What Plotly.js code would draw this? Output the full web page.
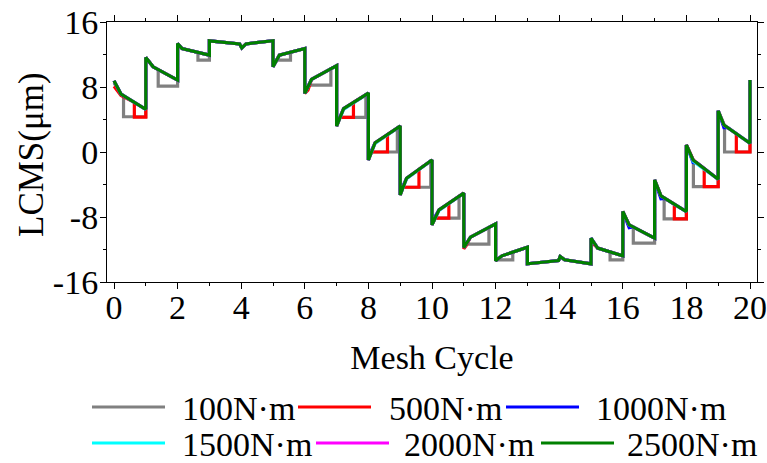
<!DOCTYPE html>
<html><head><meta charset="utf-8">
<script src="https://cdn.plot.ly/plotly-3.0.1.min.js"></script>
<style>html,body{margin:0;padding:0;background:#fff;}#chart{width:767px;height:463px;}</style>
</head><body><div id="chart"></div>
<script>
// ---- data ----
const seriesNames = ['100N·m', '500N·m', '1000N·m', '1500N·m', '2000N·m', '2500N·m'];

const greyX = [0, 0.22, 0.3, 0.3, 1, 1, 1.23, 1.39, 1.39, 2, 2, 2.14, 2.64, 2.64, 3, 3, 3.95, 4.02, 4.15, 5, 5, 5.11, 5.55, 5.55, 6, 6, 6.125, 6.82, 6.82, 7, 7, 7.11, 7.92, 7.92, 8, 8, 8.10, 8.91, 8.91, 9, 9, 9.09, 9.96, 9.96, 10, 10, 10.10, 10.85, 10.85, 11, 11, 11.07, 11.79, 11.79, 12, 12, 12.04, 12.54, 12.54, 13, 13, 13.98, 14.03, 14.17, 15, 15, 15.21, 15.6, 15.6, 16, 16, 16.2, 16.33, 16.33, 17, 17, 17.2, 17.3, 17.3, 18, 18, 18.22, 18.22, 19, 19, 19.18, 19.2, 19.2, 20, 20];
const greyY = [8.5, 7.13, 6.95, 4.34, 4.34, 11.63, 10.48, 10.14, 8.11, 8.11, 13.35, 12.74, 12.25, 11.3, 11.3, 13.68, 13.3, 12.8, 13.3, 13.7, 10.48, 11.3, 11.3, 12.28, 12.74, 7.21, 8.23, 8.23, 10.24, 10.63, 3.19, 4.26, 4.26, 7.05, 7.25, -0.98, 0, 0, 2.96, 3.19, -5.28, -4.34, -4.34, -1.09, -0.98, -8.97, -8.15, -8.15, -5.47, -5.07, -11.76, -11.34, -11.34, -9.28, -8.85, -13.39, -13.27, -13.27, -12.33, -11.71, -13.76, -13.35, -12.86, -13.27, -13.76, -10.6, -11.83, -12.3, -13.27, -13.27, -7.33, -8.97, -9.23, -11.22, -11.22, -3.44, -5.41, -5.65, -8.23, -8.23, 0.86, -1.0, -4.26, -4.26, 5.07, 3.32, 3.26, 0, 0, 8.5];

const redX = [0, 0.22, 0.64, 0.64, 1, 1, 1.23, 2, 2, 2.14, 3, 3, 3.95, 4.02, 4.15, 5, 5, 5.2, 6, 6, 6.1, 6.21, 7, 7, 7.11, 7.53, 7.53, 8, 8, 8.10, 8.6, 8.6, 9, 9, 9.09, 9.59, 9.59, 10, 10, 10.10, 10.53, 10.53, 11, 11, 11.08, 11.21, 12, 12, 12.2, 13, 13, 13.98, 14.03, 14.17, 15, 15, 15.07, 15.21, 16, 16, 16.2, 17, 17, 17.2, 17.62, 17.62, 18, 18, 18.21, 18.56, 18.56, 19, 19, 19.18, 19.57, 19.57, 20, 20];
const redY = [8.1, 6.95, 6.1, 4.3, 4.3, 11.63, 10.48, 8.85, 13.35, 12.74, 11.92, 13.68, 13.3, 12.8, 13.3, 13.7, 10.48, 11.92, 12.74, 7.21, 7.6, 8.93, 10.63, 3.19, 4.26, 4.26, 6.1, 7.25, -0.98, 0, 0, 2.15, 3.19, -5.28, -4.34, -4.34, -2.13, -0.98, -8.97, -8.15, -8.15, -6.31, -5.07, -11.9, -11.5, -10.48, -8.85, -13.39, -12.78, -11.71, -13.76, -13.35, -12.86, -13.27, -13.76, -10.75, -11.3, -11.83, -12.78, -7.33, -8.97, -10.6, -3.44, -5.41, -6.42, -8.23, -8.23, 0.86, -0.98, -2.03, -4.26, -4.26, 5.07, 3.32, 2.25, 0, 0, 8.4];

const blueX = [0, 0.22, 1, 1, 1.23, 2, 2, 2.14, 3, 3, 3.95, 4.02, 4.15, 5, 5, 5.2, 6, 6, 6.21, 7, 7, 7.07, 7.22, 8, 8, 8.07, 8.21, 9, 9, 9.07, 9.2, 10, 10, 10.07, 10.22, 11, 11, 11.21, 12, 12, 12.2, 13, 13, 13.98, 14.03, 14.17, 15, 15, 15.21, 16, 16, 16.2, 16.32, 17, 17, 17.2, 17.32, 18, 18, 18.21, 18.33, 19, 19, 19.18, 19.3, 20, 20];
const blueY = [8.76, 7.13, 5.25, 11.63, 10.48, 8.85, 13.35, 12.74, 11.92, 13.68, 13.3, 12.8, 13.3, 13.7, 10.48, 11.92, 12.74, 7.21, 8.93, 10.63, 3.19, 4.0, 5.34, 7.25, -0.98, -0.05, 1.14, 3.19, -5.28, -4.3, -3.23, -0.98, -8.97, -8.1, -7.13, -5.07, -11.76, -10.48, -8.85, -13.39, -12.78, -11.71, -13.76, -13.35, -12.86, -13.27, -13.76, -10.6, -11.83, -12.78, -7.33, -9.3, -9.21, -10.6, -3.44, -5.75, -5.70, -7.33, 0.86, -1.3, -1.34, -3.35, 5.07, 3.0, 2.99, 1.07, 8.85];

const cyanX = [0, 0.22, 1, 1, 1.23, 2, 2, 2.14, 3, 3, 3.95, 4.02, 4.15, 5, 5, 5.2, 6, 6, 6.21, 7, 7, 7.22, 8, 8, 8.21, 9, 9, 9.2, 10, 10, 10.22, 11, 11, 11.21, 12, 12, 12.2, 13, 13, 13.98, 14.03, 14.17, 15, 15, 15.21, 16, 16, 16.2, 17, 17, 17.2, 18, 18, 18.21, 19, 19, 19.18, 20, 20];
const cyanY = [8.76, 7.13, 5.25, 11.63, 10.48, 8.85, 13.35, 12.74, 11.92, 13.68, 13.3, 12.8, 13.3, 13.7, 10.48, 11.92, 12.74, 7.21, 8.93, 10.63, 3.19, 5.25, 7.25, -0.98, 1.05, 3.19, -5.28, -3.3, -0.98, -8.97, -7.2, -5.07, -11.76, -10.48, -8.85, -13.39, -12.78, -11.71, -13.76, -13.35, -12.86, -13.27, -13.76, -10.6, -11.83, -12.78, -7.33, -8.97, -10.6, -3.44, -5.41, -7.33, 0.86, -1.15, -3.35, 5.07, 3.32, 1.07, 8.85];

const magentaX = [0, 0.22, 1, 1, 1.23, 2, 2, 2.14, 3, 3, 3.95, 4.02, 4.15, 5, 5, 5.2, 6, 6, 6.21, 7, 7, 7.22, 8, 8, 8.21, 9, 9, 9.2, 10, 10, 10.22, 11, 11, 11.21, 12, 12, 12.2, 13, 13, 13.98, 14.03, 14.17, 15, 15, 15.21, 16, 16, 16.2, 17, 17, 17.2, 18, 18, 18.21, 19, 19, 19.18, 20, 20];
const magentaY = [8.76, 7.13, 5.25, 11.63, 10.48, 8.85, 13.35, 12.74, 11.92, 13.68, 13.3, 12.8, 13.3, 13.7, 10.48, 11.92, 12.74, 7.21, 8.93, 10.63, 3.19, 5.34, 7.25, -0.98, 1.14, 3.19, -5.28, -3.23, -0.98, -8.97, -7.13, -5.07, -11.76, -10.48, -8.85, -13.39, -12.78, -11.71, -13.76, -13.35, -12.86, -13.27, -13.76, -10.6, -11.83, -12.78, -7.33, -8.97, -10.6, -3.44, -5.41, -7.33, 0.86, -0.98, -3.35, 5.07, 3.32, 1.07, 8.85];

const greenX = [0, 0.22, 1, 1, 1.23, 2, 2, 2.14, 3, 3, 3.95, 4.02, 4.15, 5, 5, 5.2, 6, 6, 6.21, 7, 7, 7.22, 8, 8, 8.21, 9, 9, 9.2, 10, 10, 10.22, 11, 11, 11.21, 12, 12, 12.2, 13, 13, 13.98, 14.03, 14.17, 15, 15, 15.21, 16, 16, 16.2, 17, 17, 17.2, 18, 18, 18.21, 19, 19, 19.18, 20, 20];
const greenY = [8.76, 7.13, 5.25, 11.63, 10.48, 8.85, 13.35, 12.74, 11.92, 13.68, 13.3, 12.8, 13.3, 13.7, 10.48, 11.92, 12.74, 7.21, 8.93, 10.63, 3.19, 5.34, 7.25, -0.98, 1.14, 3.19, -5.28, -3.23, -0.98, -8.97, -7.13, -5.07, -11.76, -10.48, -8.85, -13.39, -12.78, -11.71, -13.76, -13.35, -12.86, -13.27, -13.76, -10.6, -11.83, -12.78, -7.33, -8.97, -10.6, -3.44, -5.41, -7.33, 0.86, -0.98, -3.35, 5.07, 3.32, 1.07, 8.85];

const xTickVals = [0, 2, 4, 6, 8, 10, 12, 14, 16, 18, 20];
const yTickVals = [-16, -8, 0, 8, 16];
const yTickText = ['-16', '-8', '0', '8', '16'];

// ---- styling / layout ----
const FONT = '"Liberation Serif", "Times New Roman", Times, serif';
const colors = ['#808080', '#ff0000', '#0000ff', '#00ffff', '#ff00ff', '#008000'];
const xs = [greyX, redX, blueX, cyanX, magentaX, greenX];
const ys = [greyY, redY, blueY, cyanY, magentaY, greenY];

const W = 767, H = 463;
const ML = 107, MR = 10, MT = 22, MB = 181;
const PW = W - ML - MR, PH = H - MT - MB;
const px2x = p => (p - ML) / PW;
const py2y = p => (H - MB - p) / PH;

const traces = seriesNames.map((n, i) => ({
  type: 'scatter', mode: 'lines', name: n,
  x: xs[i], y: ys[i],
  line: {color: colors[i], width: 3.2},
  showlegend: false
}));

// manual legend (long line samples as in the reference)
const legRowY = [407, 407, 407, 443, 443, 443];
const legLineStart = [92, 298, 506, 92, 316, 541];
const legTextStart = [181, 388, 595, 181, 403, 626];
const LEG_LEN = 73;
const shapes = [], annotations = [];
seriesNames.forEach((n, i) => {
  shapes.push({type: 'line', xref: 'paper', yref: 'paper',
    x0: px2x(legLineStart[i]), x1: px2x(legLineStart[i] + LEG_LEN),
    y0: py2y(legRowY[i]), y1: py2y(legRowY[i]),
    line: {color: colors[i], width: 3}});
  annotations.push({xref: 'paper', yref: 'paper', x: px2x(legTextStart[i]), y: py2y(legRowY[i] + 1),
    xanchor: 'left', yanchor: 'middle', showarrow: false, text: n,
    font: {family: FONT, size: 34, color: '#000'}, borderpad: 0});
});
annotations.push({xref: 'paper', yref: 'paper', x: px2x(31), y: py2y(155), textangle: -90,
  xanchor: 'center', yanchor: 'middle', showarrow: false, text: 'LCMS(μm)',
  font: {family: FONT, size: 35, color: '#000'}});

const layout = {
  width: W, height: H,
  margin: {l: ML, r: MR, t: MT, b: MB, pad: 0},
  paper_bgcolor: '#fff', plot_bgcolor: '#fff',
  font: {family: FONT, size: 34, color: '#000'},
  showlegend: false,
  xaxis: {
    range: [-0.22, 20.22], tickmode: 'array', tickvals: xTickVals,
    ticks: 'outside', ticklen: 6, tickwidth: 1, tickcolor: '#000',
    ticklabelstandoff: -11,
    minor: {tickmode: 'linear', tick0: 0, dtick: 1, ticks: 'outside', ticklen: 3, tickwidth: 1, tickcolor: '#000', showgrid: false},
    showline: true, linecolor: '#000', linewidth: 1, mirror: 'ticks',
    showgrid: false, zeroline: false,
    tickfont: {family: FONT, size: 34, color: '#000'},
    title: {text: 'Mesh Cycle', font: {family: FONT, size: 34, color: '#000'}, standoff: 20},
    automargin: false
  },
  yaxis: {
    range: [-16, 16], tickmode: 'array', tickvals: yTickVals, ticktext: yTickText,
    ticks: 'outside', ticklen: 6, tickwidth: 1, tickcolor: '#000',
    ticklabelstandoff: -5,
    minor: {tickmode: 'linear', tick0: 0, dtick: 4, ticks: 'outside', ticklen: 3, tickwidth: 1, tickcolor: '#000', showgrid: false},
    showline: true, linecolor: '#000', linewidth: 1, mirror: 'ticks',
    showgrid: false, zeroline: false,
    tickfont: {family: FONT, size: 34, color: '#000'},
    automargin: false
  },
  shapes: shapes,
  annotations: annotations
};

Plotly.newPlot('chart', traces, layout, {displayModeBar: false, staticPlot: true});
</script>
</body></html>
